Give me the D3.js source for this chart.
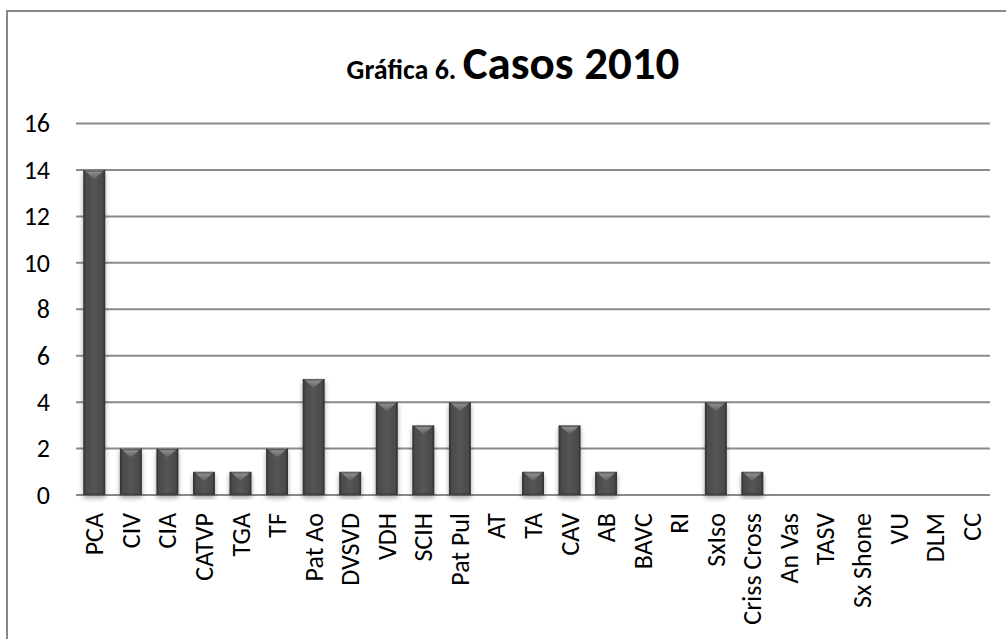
<!DOCTYPE html>
<html>
<head>
<meta charset="utf-8">
<script src="https://cdn.jsdelivr.net/npm/d3@7"></script>
<style>
  body { margin: 0; background: #fff; }
  svg { display: block; }
  text { font-family: Carlito, Lato, "Open Sans", sans-serif; fill: #000; }
</style>
</head>
<body>
<svg id="chart" width="1006" height="639"></svg>
<script>
const categories = ["PCA", "CIV", "CIA", "CATVP", "TGA", "TF", "Pat Ao", "DVSVD", "VDH", "SCIH",
  "Pat Pul", "AT", "TA", "CAV", "AB", "BAVC", "RI", "SxIso", "Criss Cross", "An Vas",
  "TASV", "Sx Shone", "VU", "DLM", "CC"];
const casos = [14, 2, 2, 1, 1, 2, 5, 1, 4, 3, 4, 0, 1, 3, 1, 0, 0, 4, 1, 0, 0, 0, 0, 0, 0];
const yTicks = [0, 2, 4, 6, 8, 10, 12, 14, 16];

const svg = d3.select("#chart");

// outer frame (runs off the right and bottom of the picture)
svg.append("rect")
  .attr("x", 7).attr("y", 11)
  .attr("width", 1100).attr("height", 700)
  .attr("fill", "none")
  .attr("stroke", "#878787")
  .attr("stroke-width", 2);

const defs = svg.append("defs");

const grad = defs.append("linearGradient")
  .attr("id", "barGrad")
  .attr("x1", "0%").attr("x2", "100%").attr("y1", "0%").attr("y2", "0%");
grad.append("stop").attr("offset", "0%").attr("stop-color", "#3a3a3a");
grad.append("stop").attr("offset", "12%").attr("stop-color", "#4b4b4b");
grad.append("stop").attr("offset", "50%").attr("stop-color", "#555555");
grad.append("stop").attr("offset", "88%").attr("stop-color", "#4b4b4b");
grad.append("stop").attr("offset", "100%").attr("stop-color", "#363636");

const topGrad = defs.append("linearGradient")
  .attr("id", "topGrad")
  .attr("x1", "0%").attr("x2", "0%").attr("y1", "0%").attr("y2", "100%");
topGrad.append("stop").attr("offset", "0%").attr("stop-color", "#9a9a9a");
topGrad.append("stop").attr("offset", "100%").attr("stop-color", "#5e5e5e");

const shadow = defs.append("filter")
  .attr("id", "shadow")
  .attr("x", "-30%").attr("y", "-10%").attr("width", "160%").attr("height", "130%");
shadow.append("feGaussianBlur").attr("in", "SourceAlpha").attr("stdDeviation", 2.5).attr("result", "blur");
shadow.append("feOffset").attr("in", "blur").attr("dx", 0).attr("dy", 3).attr("result", "off");
shadow.append("feComponentTransfer").attr("in", "off").attr("result", "soft")
  .append("feFuncA").attr("type", "linear").attr("slope", 0.35);
const merge = shadow.append("feMerge");
merge.append("feMergeNode").attr("in", "soft");
merge.append("feMergeNode").attr("in", "SourceGraphic");

// title
const title = svg.append("text")
  .attr("x", 513).attr("y", 79)
  .attr("text-anchor", "middle")
  .attr("font-weight", "bold");
title.append("tspan").attr("font-size", 28).text("Gráfica 6. ");
title.append("tspan").attr("font-size", 47).text("Casos 2010");

const margin = { left: 76, right: 16, top: 123.5, bottom: 144 };
const x = d3.scaleBand()
  .domain(categories)
  .range([margin.left, 1006 - margin.right])
  .paddingInner(0.4)
  .paddingOuter(0.2);
const y = d3.scaleLinear()
  .domain([0, 16])
  .range([639 - margin.bottom, margin.top]);

// gridlines
svg.append("g")
  .selectAll("line")
  .data(yTicks)
  .join("line")
  .attr("x1", margin.left)
  .attr("x2", 1006 - margin.right)
  .attr("y1", d => y(d))
  .attr("y2", d => y(d))
  .attr("stroke", "#8a8a8a")
  .attr("stroke-width", 2);

// y tick labels
const yAxis = svg.append("g")
  .attr("transform", `translate(${margin.left},0)`)
  .call(d3.axisLeft(y).tickValues(yTicks).tickSize(0).tickPadding(26));
yAxis.select(".domain").remove();
yAxis.selectAll("text")
  .attr("font-size", 26);

// bars
const bars = svg.append("g")
  .selectAll("g")
  .data(categories.map((c, i) => ({ c, v: casos[i] })).filter(d => d.v > 0))
  .join("g")
  .attr("filter", "url(#shadow)");

bars.append("rect")
  .attr("x", d => x(d.c))
  .attr("y", d => y(d.v))
  .attr("width", x.bandwidth())
  .attr("height", d => y(0) - y(d.v))
  .attr("fill", "url(#barGrad)");

// bevel: lighter triangle on top
bars.append("path")
  .attr("d", d => {
    const x0 = x(d.c), w = x.bandwidth(), y0 = y(d.v);
    const h = Math.min(w * 0.42, (y(0) - y(d.v)) / 2);
    return `M${x0 + 1},${y0}L${x0 + w - 1},${y0}L${x0 + w / 2},${y0 + h}Z`;
  })
  .attr("fill", "url(#topGrad)");

// bevel: edges
bars.append("rect")
  .attr("x", d => x(d.c) + 1)
  .attr("y", d => y(d.v) + 1)
  .attr("width", x.bandwidth() - 2)
  .attr("height", d => y(0) - y(d.v) - 2)
  .attr("fill", "none")
  .attr("stroke", "#2f2f2f")
  .attr("stroke-opacity", 0.5)
  .attr("stroke-width", 1.5);

// x labels
const xAxis = svg.append("g")
  .attr("transform", `translate(0,${y(0)})`)
  .call(d3.axisBottom(x).tickSize(0).tickPadding(0));
xAxis.select(".domain").remove();
xAxis.selectAll("text")
  .attr("font-size", 26)
  .attr("text-anchor", "end")
  .attr("transform", "translate(9,18) rotate(-90)")
  .attr("dy", 0)
  .attr("y", 0);
</script>
</body>
</html>
